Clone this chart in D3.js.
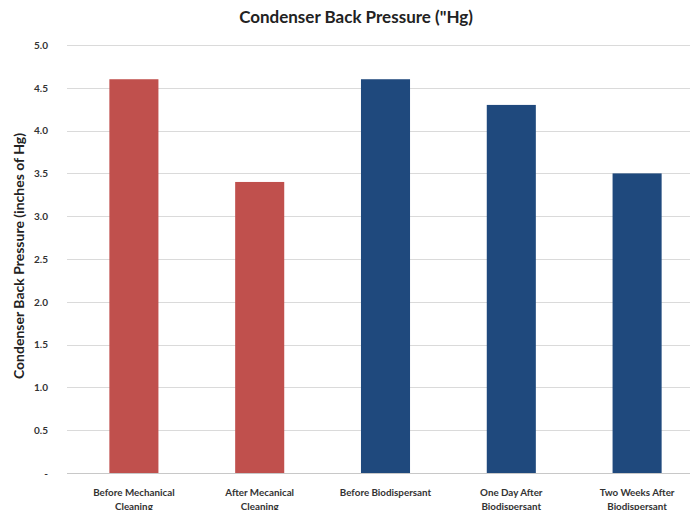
<!DOCTYPE html>
<html>
<head>
<meta charset="utf-8">
<script src="https://cdn.jsdelivr.net/npm/d3@7/dist/d3.min.js"></script>
<style>
  html, body { margin: 0; padding: 0; background: #fff; }
  svg { display: block; font-family: Lato, "Open Sans", sans-serif; }
</style>
</head>
<body>
<svg id="chart" width="690" height="510"></svg>
<script>
// Condenser back pressure by cleaning stage
const stages = [
  ["Before Mechanical", "Cleaning"],
  ["After Mecanical", "Cleaning"],
  ["Before Biodispersant"],
  ["One Day After", "Biodispersant"],
  ["Two Weeks After", "Biodispersant"]
];
const pressure = [4.6, 3.4, 4.6, 4.3, 3.5];
const stageGroup = ["mechanical", "mechanical", "bio", "bio", "bio"];
const yTicks = [0, 0.5, 1.0, 1.5, 2.0, 2.5, 3.0, 3.5, 4.0, 4.5, 5.0];

const colors = { mechanical: "#C0504D", bio: "#1F497D" };

const svg = d3.select("#chart");
const margin = { left: 71, right: -10, top: 45, bottom: 37 };
const W = 690, H = 510;

const x = d3.scaleBand()
  .domain(d3.range(pressure.length))
  .range([margin.left, W - margin.right])
  .paddingInner(0.61)
  .paddingOuter(0.305);

const y = d3.scaleLinear()
  .domain([0, 5])
  .range([H - margin.bottom, margin.top]);

// horizontal gridlines
svg.append("g")
  .selectAll("line")
  .data(yTicks)
  .join("line")
  .attr("x1", margin.left - 4)
  .attr("x2", W)
  .attr("y1", d => Math.round(y(d)) + 0.5)
  .attr("y2", d => Math.round(y(d)) + 0.5)
  .attr("stroke", d => d === 0 ? "#c8c8c8" : "#dadada")
  .attr("stroke-width", 1.2);

// y axis tick labels
const yAxis = d3.axisLeft(y)
  .tickValues(yTicks)
  .tickSize(0)
  .tickPadding(0)
  .tickFormat(d => d === 0 ? "-" : d3.format(".1f")(d));

svg.append("g")
  .attr("transform", `translate(${margin.left - 23},0)`)
  .call(yAxis)
  .call(g => g.select(".domain").remove())
  .call(g => g.selectAll("text")
    .attr("font-family", "Lato, sans-serif")
    .attr("font-size", 10)
    .attr("font-weight", "bold")
    .attr("fill", "#333"));

// bars
svg.append("g")
  .selectAll("rect")
  .data(pressure)
  .join("rect")
  .attr("x", (d, i) => x(i))
  .attr("width", x.bandwidth())
  .attr("y", d => y(d))
  .attr("height", d => y(0) - y(d))
  .attr("fill", (d, i) => colors[stageGroup[i]]);

// x category labels
const xl = svg.append("g")
  .selectAll("text")
  .data(stages)
  .join("text")
  .attr("x", (d, i) => x(i) + x.bandwidth() / 2)
  .attr("y", 496)
  .attr("text-anchor", "middle")
  .attr("font-size", 9.8)
  .attr("font-weight", "bold")
  .attr("fill", "#333");
xl.selectAll("tspan")
  .data(d => d)
  .join("tspan")
  .attr("x", function () { return d3.select(this.parentNode).attr("x"); })
  .attr("dy", (d, i) => i === 0 ? 0 : 13.5)
  .text(d => d);

// title
svg.append("text")
  .attr("x", 356)
  .attr("y", 23)
  .attr("text-anchor", "middle")
  .attr("font-size", 17)
  .attr("font-weight", "bold")
  .attr("fill", "#222")
  .text("Condenser Back Pressure (\"Hg)");

// y axis title
svg.append("text")
  .attr("transform", `translate(24,${(y(0) + y(5)) / 2 - 3}) rotate(-90)`)
  .attr("text-anchor", "middle")
  .attr("font-size", 14)
  .attr("font-weight", "bold")
  .attr("fill", "#222")
  .text("Condenser Back Pressure (inches of Hg)");
</script>
</body>
</html>
